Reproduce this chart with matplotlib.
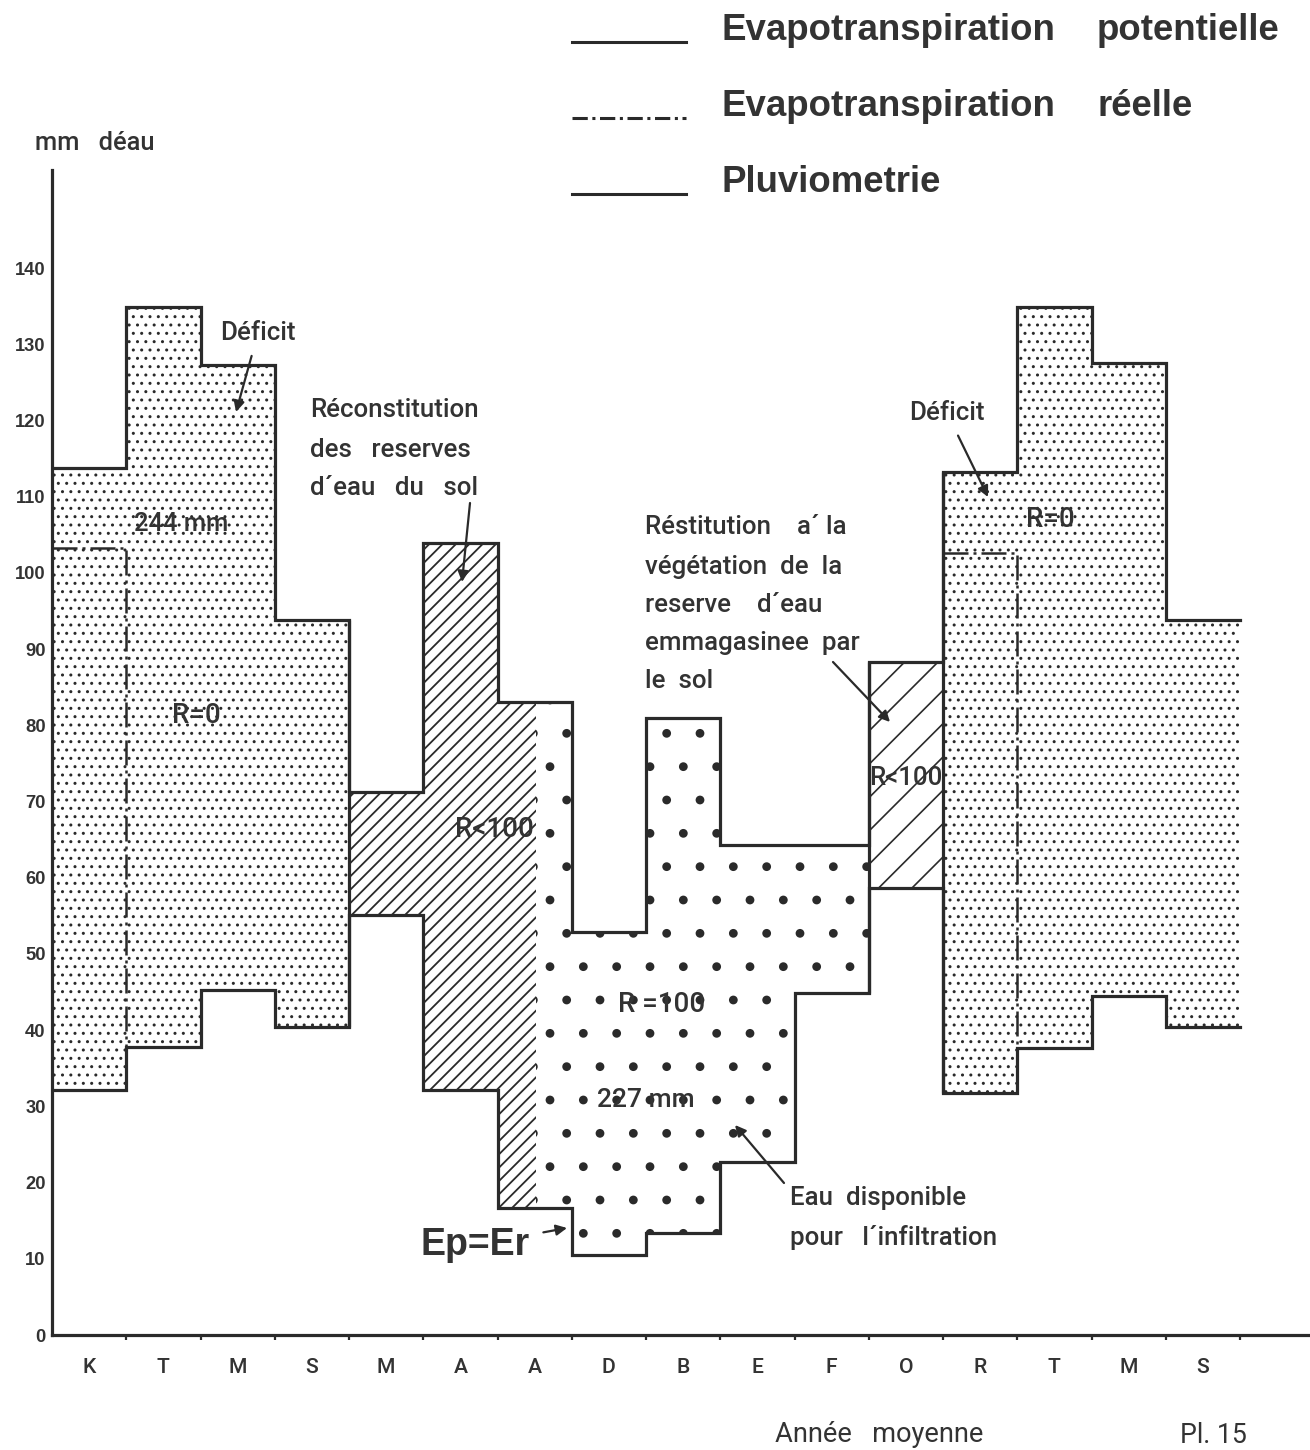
import numpy as np
import matplotlib
matplotlib.use("Agg")
import matplotlib.pyplot as plt
from matplotlib.lines import Line2D

# ---------------- data ----------------
months = ['K', 'T', 'M', 'S', 'M', 'A', 'A', 'D', 'B', 'E', 'F', 'O', 'R', 'T', 'M', 'S']
etp = [113.8, 134.9, 127.3, 93.8, 71.3, 103.9, 83.1, 52.9, 81.0, 64.3, 64.3, 88.3, 113.3, 134.9, 127.5, 93.8]
pluie = [32.2, 37.8, 45.3, 40.4, 55.1, 32.2, 16.7, 10.5, 13.4, 22.7, 44.9, 58.7, 31.8, 37.7, 44.5, 40.4]
etr = [103.3, np.nan, np.nan, np.nan, np.nan, np.nan, np.nan, np.nan,
       np.nan, np.nan, np.nan, np.nan, 102.6, np.nan, np.nan, np.nan]
# fill type of each month: fine stipple (deficit), dense hatch (recharge),
# big dots (surplus), sparse hatch (restitution)
fills = ['fine', 'fine', 'fine', 'fine', 'dense', 'dense', 'split', 'dots',
         'dots', 'dots', 'dots', 'sparse', 'fine', 'fine', 'fine', 'fine']
split_frac = 0.52      # share of the 2nd "A" month still in recharge
yticks = list(range(0, 150, 10))

# ---------------- figure ----------------
W, H = 1310, 1450
DPI = 200
fig = plt.figure(figsize=(W / DPI, H / DPI), dpi=DPI, facecolor='white')
INK = '#2a2a2a'
TXT = '#333333'
FAM = ['Liberation Sans', 'DejaVu Sans']
MED = ['Roboto', 'Liberation Sans', 'DejaVu Sans']

x0px, x1px, y0px, y1px = 52, 1310, 1335, 170
mw = 74.25          # px per month
uy = 7.62           # px per mm
ax = fig.add_axes([x0px / W, 1 - y0px / H, (x1px - x0px) / W, (y0px - y1px) / H])
ax.set_xlim(0, (x1px - x0px) / mw)
ax.set_ylim(0, (y0px - y1px) / uy)
ax.set_facecolor('none')


def d(px, py):
    return ((px - x0px) / mw, (y0px - py) / uy)


hatch_map = {'fine': ('....', 0.5), 'dots': ('.', 0.75),
             'dense': ('/////', 0.65), 'sparse': ('//', 0.6)}


def fillbar(x, w, lo, hi, kind):
    h, lw = hatch_map[kind]
    bars = ax.bar([x], [hi - lo], bottom=[lo], width=w, align='edge',
                  facecolor='none', edgecolor=INK, linewidth=0, hatch=h, zorder=1)
    for b in bars:
        try:
            b.set_hatch_linewidth(lw)
        except Exception:
            pass


n = len(months)
for i in range(n):
    k = fills[i]
    if k == 'split':
        fillbar(i, split_frac, pluie[i], etp[i], 'dense')
        fillbar(i + split_frac, 1 - split_frac, pluie[i], etp[i], 'dots')
    else:
        fillbar(i, 1, pluie[i], etp[i], k)

xe = np.arange(n + 1)
ax.step(xe, etp + [etp[-1]], where='post', color=INK, lw=1.15, zorder=3,
        solid_joinstyle='miter')
ax.step(xe, pluie + [pluie[-1]], where='post', color=INK, lw=1.15, zorder=3,
        solid_joinstyle='miter')
# boundaries between differently filled groups
for b in range(1, n):
    ga = 'dots' if fills[b - 1] == 'split' else fills[b - 1]
    gb = 'dense' if fills[b] == 'split' else fills[b]
    if ga != gb:
        ax.vlines(b, min(pluie[b - 1], pluie[b]), max(etp[b - 1], etp[b]),
                  color=INK, lw=1.15, zorder=3)
# actual evapotranspiration (dash-dot)
for i, v in enumerate(etr):
    if not np.isnan(v):
        ax.plot([i, i + 1, i + 1], [v, v, pluie[i + 1]], color=INK, lw=0.9,
                linestyle=(0, (10, 2, 1.2, 2)), zorder=3)

# axes styling
for s in ['top', 'right']:
    ax.spines[s].set_visible(False)
for s in ['left', 'bottom']:
    ax.spines[s].set_linewidth(1.15)
    ax.spines[s].set_color(INK)
ax.set_yticks(yticks)
ax.set_yticklabels([str(t) for t in yticks], fontsize=6.6, color=TXT,
                   family=FAM, fontweight='bold')
ax.tick_params(axis='y', length=0, pad=2.3)
ax.set_xticks(np.arange(1, n + 1))
ax.set_xticklabels([])
ax.tick_params(axis='x', which='major', length=1.8, width=0.8, color=INK, direction='out')
ax.set_xticks(np.arange(n) + 0.5, minor=True)
ax.set_xticklabels(months, minor=True, fontsize=7.6, color=TXT, family=MED,
                   fontweight='medium')
ax.tick_params(axis='x', which='minor', length=0, pad=8.3)

# ---------------- annotations ----------------
aprops = dict(arrowstyle='-|>', color=INK, lw=0.8, mutation_scale=8,
              shrinkA=2, shrinkB=0)
afs = 9.3
tk = dict(color=TXT, family=MED, fontweight='medium')

ax.annotate('Déficit', xy=d(236, 412), xytext=d(258, 333), ha='center', va='center',
            fontsize=afs, arrowprops=aprops, **tk)
ax.annotate('Déficit', xy=d(988, 497), xytext=d(947, 413), ha='center', va='center',
            fontsize=afs, arrowprops=aprops, **tk)
for t, py in [('Réconstitution', 410), ('des   reserves', 450), ('d´eau   du   sol', 488)]:
    ax.text(*d(310, py), t, ha='left', va='center', fontsize=afs, **tk)
ax.annotate('', xy=d(462, 582), xytext=d(470, 503), arrowprops=dict(aprops, shrinkA=0))
for t, py in [('Réstitution    a´ la', 527), ('végétation  de  la', 567),
              ('reserve    d´eau', 605), ('emmagasinee  par', 643), ('le  sol', 681)]:
    ax.text(*d(645, py), t, ha='left', va='center', fontsize=afs, **tk)
ax.annotate('', xy=d(890, 722), xytext=d(833, 662), arrowprops=dict(aprops, shrinkA=0))

ax.text(*d(181, 524), '244 mm', ha='center', va='center', fontsize=9.2, **tk)
ax.text(*d(196, 716), 'R=0', ha='center', va='center', fontsize=10, **tk)
ax.text(*d(1050, 520), 'R=0', ha='center', va='center', fontsize=10, **tk)
ax.text(*d(494, 830), 'R<100', ha='center', va='center', fontsize=10, **tk)
ax.text(*d(906, 778), 'R<100', ha='center', va='center', fontsize=9.3, **tk)
ax.text(*d(662, 1005), 'R =100', ha='center', va='center', fontsize=10, **tk)
ax.text(*d(646, 1100), '227 mm', ha='center', va='center', fontsize=9.5, **tk)

ax.annotate('Ep=Er', xy=d(567, 1228), xytext=d(475, 1245), ha='center', va='center',
            fontsize=13.5, fontweight='bold', color=TXT, family=FAM,
            arrowprops=dict(aprops, shrinkA=3))
ax.text(*d(790, 1198), 'Eau  disponible', ha='left', va='center', fontsize=afs, **tk)
ax.text(*d(790, 1237), 'pour   l´infiltration', ha='left', va='center', fontsize=afs, **tk)
ax.annotate('', xy=d(735, 1125), xytext=d(784, 1183), arrowprops=dict(aprops, shrinkA=0))


# ---------------- legend & outer labels ----------------
def ftext(px, py, s, **kw):
    fig.text(px / W, 1 - py / H, s, **kw)


leg_rows = [('Evapotranspiration', 'potentielle', '-', 30),
            ('Evapotranspiration', 'réelle', (0, (5, 1.5, 1, 1.5)), 106),
            ('Pluviometrie', None, '-', 182)]
for w1, w2, ls, py in leg_rows:
    fig.add_artist(Line2D([572 / W, 686 / W], [1 - (py + 12) / H] * 2, color=INK,
                          lw=1.1, linestyle=ls))
    ftext(722, py, w1, ha='left', va='center', fontsize=13.2, fontweight='bold',
          color=TXT, family=FAM)
    if w2:
        ftext(1097, py, w2, ha='left', va='center', fontsize=13.2, fontweight='bold',
              color=TXT, family=FAM)

ftext(35, 143, 'mm   déau', ha='left', va='center', fontsize=9.2, **tk)
ftext(775, 1435, 'Année   moyenne', ha='left', va='center', fontsize=9.8,
      color=TXT, family=MED)
ftext(1180, 1449, 'Pl. 15', ha='left', va='bottom', fontsize=9.6, color=TXT, family=MED)

fig.savefig('out.png', dpi=DPI, facecolor='white')
